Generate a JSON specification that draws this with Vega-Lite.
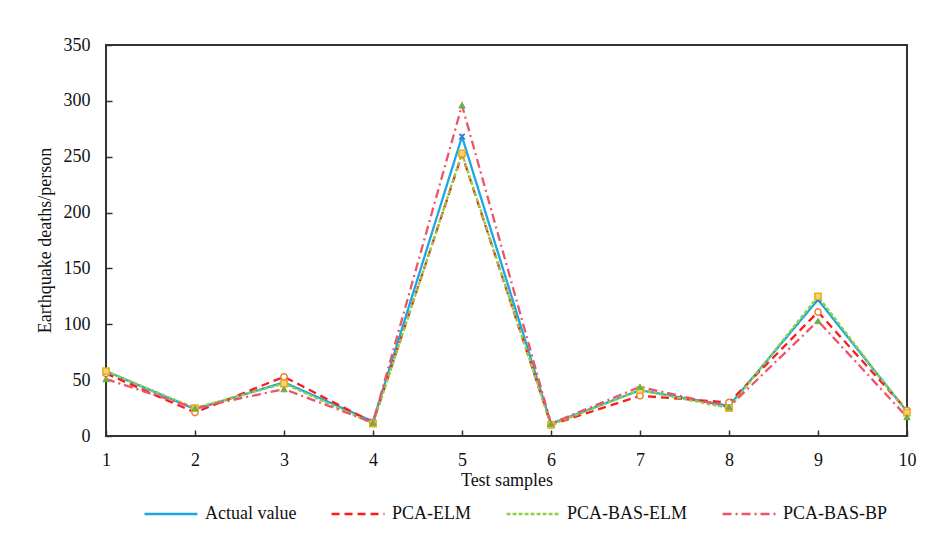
{
  "$schema": "https://vega.github.io/schema/vega-lite/v6.json",
  "width": 801,
  "height": 391,
  "autosize": {"type": "none"},
  "padding": {"left": 106, "top": 45, "right": 20, "bottom": 113},
  "background": "white",
  "config": {
    "font": "Liberation Serif",
    "view": {"stroke": "#333333", "strokeWidth": 2},
    "axis": {"labelFont": "Liberation Serif", "titleFont": "Liberation Serif", "labelColor": "#111", "titleColor": "#111", "titleFontWeight": "normal", "domain": false, "grid": false, "tickColor": "#333", "tickWidth": 1.5, "labelFlush": false}
  },
  "data": {"values": [
    {"sample": 1, "series": "Actual value", "value": 58},
    {"sample": 2, "series": "Actual value", "value": 24},
    {"sample": 3, "series": "Actual value", "value": 48},
    {"sample": 4, "series": "Actual value", "value": 13},
    {"sample": 5, "series": "Actual value", "value": 268},
    {"sample": 6, "series": "Actual value", "value": 11},
    {"sample": 7, "series": "Actual value", "value": 41},
    {"sample": 8, "series": "Actual value", "value": 27},
    {"sample": 9, "series": "Actual value", "value": 122},
    {"sample": 10, "series": "Actual value", "value": 22},
    {"sample": 1, "series": "PCA-ELM", "value": 56},
    {"sample": 2, "series": "PCA-ELM", "value": 21},
    {"sample": 3, "series": "PCA-ELM", "value": 53},
    {"sample": 4, "series": "PCA-ELM", "value": 12},
    {"sample": 5, "series": "PCA-ELM", "value": 252},
    {"sample": 6, "series": "PCA-ELM", "value": 10},
    {"sample": 7, "series": "PCA-ELM", "value": 36},
    {"sample": 8, "series": "PCA-ELM", "value": 30},
    {"sample": 9, "series": "PCA-ELM", "value": 111},
    {"sample": 10, "series": "PCA-ELM", "value": 23},
    {"sample": 1, "series": "PCA-BAS-ELM", "value": 58},
    {"sample": 2, "series": "PCA-BAS-ELM", "value": 25},
    {"sample": 3, "series": "PCA-BAS-ELM", "value": 47},
    {"sample": 4, "series": "PCA-BAS-ELM", "value": 11},
    {"sample": 5, "series": "PCA-BAS-ELM", "value": 253},
    {"sample": 6, "series": "PCA-BAS-ELM", "value": 10},
    {"sample": 7, "series": "PCA-BAS-ELM", "value": 41},
    {"sample": 8, "series": "PCA-BAS-ELM", "value": 25},
    {"sample": 9, "series": "PCA-BAS-ELM", "value": 125},
    {"sample": 10, "series": "PCA-BAS-ELM", "value": 21},
    {"sample": 1, "series": "PCA-BAS-BP", "value": 51},
    {"sample": 2, "series": "PCA-BAS-BP", "value": 25},
    {"sample": 3, "series": "PCA-BAS-BP", "value": 42},
    {"sample": 4, "series": "PCA-BAS-BP", "value": 12},
    {"sample": 5, "series": "PCA-BAS-BP", "value": 296},
    {"sample": 6, "series": "PCA-BAS-BP", "value": 11},
    {"sample": 7, "series": "PCA-BAS-BP", "value": 44},
    {"sample": 8, "series": "PCA-BAS-BP", "value": 26},
    {"sample": 9, "series": "PCA-BAS-BP", "value": 103},
    {"sample": 10, "series": "PCA-BAS-BP", "value": 17}
  ]},
  "encoding": {
    "x": {"field": "sample", "type": "quantitative",
      "scale": {"domain": [1, 10], "nice": false, "zero": false},
      "axis": {"values": [1,2,3,4,5,6,7,8,9,10], "tickSize": -6, "labelPadding": 21, "labelFontSize": 18, "labelFlush": false, "title": "Test samples", "titleFontSize": 18, "titleY": 44, "titleBaseline": "middle"}},
    "y": {"field": "value", "type": "quantitative",
      "scale": {"domain": [0, 350], "nice": false},
      "axis": {"values": [0,50,100,150,200,250,300,350], "tickSize": -6, "labelPadding": 22, "labelFontSize": 18, "title": "Earthquake deaths/person", "titleFontSize": 18, "titleX": -61, "titleY": 195, "titleBaseline": "middle"}}
  },
  "layer": [
    {
      "mark": {"type": "line", "strokeWidth": 2.3},
      "encoding": {
        "color": {"field": "series", "type": "nominal",
          "sort": ["Actual value", "PCA-ELM", "PCA-BAS-ELM", "PCA-BAS-BP"],
          "scale": {"domain": ["Actual value", "PCA-ELM", "PCA-BAS-ELM", "PCA-BAS-BP"], "range": ["#1aa7e6", "#ff1a1a", "#8fcf45", "#ec5468"]},
          "legend": {"title": null, "orient": "none", "legendX": 37, "legendY": 441, "direction": "horizontal", "symbolType": "stroke", "symbolSize": 2800, "symbolStrokeWidth": 2.3, "labelFont": "Liberation Serif", "labelFontSize": 18, "labelColor": "#111", "labelOffset": 6, "columnPadding": 29, "labelLimit": 300}},
        "strokeDash": {"field": "series", "type": "nominal",
          "sort": ["Actual value", "PCA-ELM", "PCA-BAS-ELM", "PCA-BAS-BP"],
          "scale": {"domain": ["Actual value", "PCA-ELM", "PCA-BAS-ELM", "PCA-BAS-BP"], "range": [[1, 0], [8, 5], [4, 2], [9, 4, 2, 4]]},
          "legend": {"title": null, "orient": "none", "legendX": 37, "legendY": 441, "direction": "horizontal", "symbolType": "stroke", "symbolSize": 2800, "symbolStrokeWidth": 2.3, "labelFont": "Liberation Serif", "labelFontSize": 18, "labelColor": "#111", "labelOffset": 6, "columnPadding": 29, "labelLimit": 300}},
        "order": {"field": "sample", "type": "quantitative"},
        "detail": {"field": "series"}
      }
    },
    {
      "transform": [{"filter": {"field": "series", "equal": "Actual value"}}],
      "mark": {"type": "point", "shape": "M-1,-1L1,1M-1,1L1,-1", "size": 30, "stroke": "#4472c4", "strokeWidth": 1.5, "filled": false, "opacity": 1},
      "encoding": {}
    },
    {
      "transform": [{"filter": {"field": "series", "equal": "PCA-ELM"}}],
      "mark": {"type": "point", "shape": "circle", "size": 40, "stroke": "#ed7d31", "fill": "#ffffff", "strokeWidth": 1.5, "opacity": 1},
      "encoding": {}
    },
    {
      "transform": [{"filter": {"field": "series", "equal": "PCA-BAS-ELM"}}],
      "mark": {"type": "point", "shape": "square", "size": 40, "stroke": "#e8ae1c", "fill": "#f3d27a", "strokeWidth": 1.5, "opacity": 1},
      "encoding": {}
    },
    {
      "transform": [{"filter": {"field": "series", "equal": "PCA-BAS-BP"}}],
      "mark": {"type": "point", "shape": "triangle-up", "size": 40, "stroke": "#70ad47", "fill": "#70ad47", "strokeWidth": 1, "opacity": 1},
      "encoding": {}
    }
  ]
}
